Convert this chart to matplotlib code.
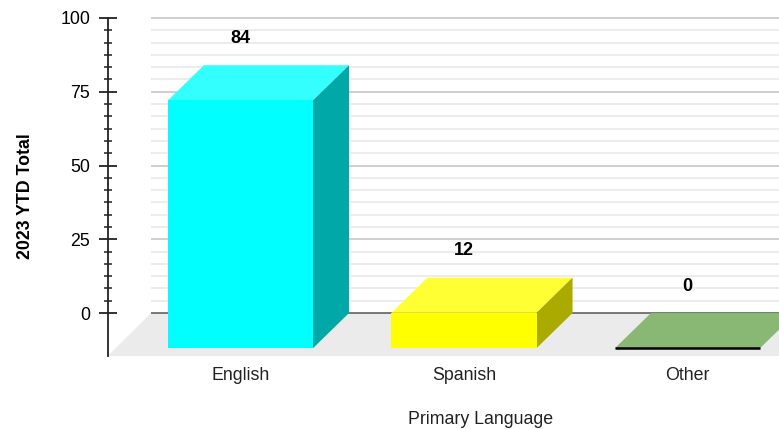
import numpy as np
import matplotlib
matplotlib.use('Agg')
from matplotlib import pyplot as plt
from matplotlib.patches import Polygon

plt.rcParams['font.family'] = ['Liberation Sans', 'DejaVu Sans']

# Chart values
languages = ['English', 'Spanish', 'Other']
totals = [84, 12, 0]
front_colors = ['#00ffff', '#ffff00', '#000000']
top_colors = ['#33ffff', '#ffff33', '#88b873']
side_colors = ['#00a8a8', '#aaaa00', '#88b873']
major_ticks = [0, 25, 50, 75, 100]

# Layout, the axes fill the whole figure so the 3d offsets are easy to keep
bar_width = 0.649
depth_x = 0.161
depth_y = 11.9
floor_y = -14.6
wall_x = -0.4
axis_x = -0.5945

fig = plt.figure(figsize=(7.79, 4.29), dpi=100)
ax = fig.add_axes([0, 0, 1, 1])
ax.set_xlim(-240.5 / 223.5, (779 - 240.5) / 223.5)
ax.set_ylim(-39.3, 106.1)
ax.patch.set_alpha(0)

right = ax.get_xlim()[1]

# Floor of the 3d plot
ax.add_patch(Polygon([(axis_x, floor_y), (wall_x, 0), (right, 0), (right, floor_y)],
                     closed=True, fc='#ebebeb', ec='none', zorder=1))

# Gridlines on the back wall
minor_ticks = [v for v in np.arange(0, 100.1, 25 / 6) if round(v % 25, 3) not in (0, 25)]
ax.hlines(minor_ticks, wall_x, right, color='#ececec', lw=1.4, zorder=1)
ax.hlines(major_ticks[1:], wall_x, right, color='#cccccc', lw=1.3, zorder=1)
ax.hlines(0, wall_x, right, color='#555555', lw=1.1, zorder=1)

# Bars
for i, val in enumerate(totals):
    left = i - bar_width / 2
    rgt = i + bar_width / 2
    y0 = -depth_y
    y1 = val - depth_y
    ax.add_patch(Polygon([(left, y1), (left + depth_x, y1 + depth_y),
                          (rgt + depth_x, y1 + depth_y), (rgt, y1)],
                         closed=True, fc=top_colors[i], ec='none', zorder=3))
    if val > 0:
        ax.add_patch(Polygon([(rgt, y0), (rgt + depth_x, y0 + depth_y),
                              (rgt + depth_x, y1 + depth_y), (rgt, y1)],
                             closed=True, fc=side_colors[i], ec='none', zorder=3))
        ax.bar(i, val, bar_width, bottom=y0, color=front_colors[i], zorder=4)
    else:
        ax.hlines(y0, left, rgt, color=front_colors[i], lw=1.8, zorder=4)
    ax.text(i - 0.002, val + 9.1, str(val), ha='center', va='center', fontsize=13,
            fontweight='bold', color='black', zorder=5)

# Axes
for side in ['top', 'right']:
    ax.spines[side].set_visible(False)
ax.spines['left'].set_position(('data', axis_x))
ax.spines['left'].set_bounds(floor_y, 100)
ax.spines['left'].set_color('#222222')
ax.spines['left'].set_linewidth(1.3)
ax.spines['bottom'].set_position(('data', floor_y))
ax.spines['bottom'].set_color('none')

ax.set_yticks(major_ticks)
ax.set_yticks(minor_ticks, minor=True)
ax.tick_params(axis='y', which='major', direction='inout', length=13, width=1.3,
               color='#222222', labelsize=12.8, pad=6)
ax.tick_params(axis='y', which='minor', direction='inout', length=6, width=1.1, color='#222222')
ax.set_xticks(range(len(languages)))
ax.set_xticklabels(languages, fontsize=12.8, color='#222222')
ax.tick_params(axis='x', length=0, pad=8)

# transform=None means figure pixels counted from the bottom
ax.text(481, 429 - 419, 'Primary Language', transform=None, fontsize=12.8, color='#222222',
        ha='center', va='center')
ax.text(26, 429 - 196, '2023 YTD Total', transform=None, fontsize=12.8, fontweight='bold',
        rotation=90, ha='center', va='center', color='black')

fig.savefig('out.png', dpi=100)
